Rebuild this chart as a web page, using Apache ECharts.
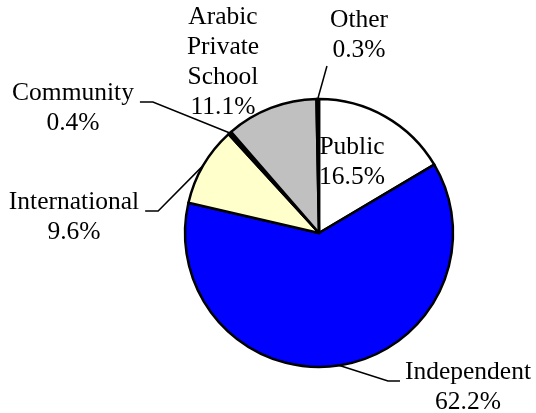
<!DOCTYPE html>
<html>
<head>
<meta charset="utf-8">
<script src="https://cdn.jsdelivr.net/npm/echarts@6/dist/echarts.min.js"></script>
<style>
  html, body { margin: 0; padding: 0; background: #fff; }
  #chart { width: 536px; height: 413px; }
</style>
</head>
<body>
<div id="chart"></div>
<script>
// slices, clockwise from 12 o'clock
const categories = ['Public', 'Independent', 'International', 'Community', 'Arabic\nPrivate\nSchool', 'Other']
const shares = [16.5, 62.2, 9.6, 0.4, 11.1, 0.3]
const colors = ['#FFFFFF', '#0000FF', '#FFFFCC', '#000000', '#C0C0C0', '#000000']

// label block centres and how the leader line meets them
const labelSpots = [
  { x: 352, y: 162, line: 'none' },
  { x: 468, y: 387, line: 'left' },
  { x: 74, y: 217, line: 'right' },
  { x: 73, y: 108, line: 'right' },
  { x: 223, y: 62, line: 'none' },
  { x: 359, y: 35, line: 'bottom' }
]

const chart = echarts.init(document.getElementById('chart'), null, { renderer: 'canvas' })

const seriesData = categories.map((name, i) => ({
  name: name,
  value: shares[i],
  itemStyle: { color: colors[i] },
  labelLine: { show: labelSpots[i].line !== 'none' }
}))

chart.setOption({
  backgroundColor: '#fff',
  animation: false,
  series: [
    {
      type: 'pie',
      center: [319, 233],
      radius: 134,
      startAngle: 90,
      clockwise: true,
      avoidLabelOverlap: false,
      data: seriesData,
      itemStyle: {
        borderColor: '#000',
        borderWidth: 2.5
      },
      label: {
        show: true,
        position: 'outside',
        color: '#000',
        fontFamily: 'Liberation Serif',
        fontSize: 25.5,
        lineHeight: 30,
        align: 'center',
        overflow: 'none',
        formatter: p => p.name + '\n' + p.value.toFixed(1) + '%'
      },
      labelLine: {
        show: true,
        length: 10,
        length2: 10,
        lineStyle: { color: '#000', width: 1.5 }
      },
      labelLayout: params => {
        const spot = labelSpots[params.dataIndex]
        const w = params.labelRect.width
        const h = params.labelRect.height
        const out = { x: spot.x, y: spot.y, align: 'center', verticalAlign: 'middle' }
        const pts = params.labelLinePoints
        if (pts && spot.line !== 'none') {
          const anchor = pts[0]
          const ly = spot.y - 6
          if (spot.line === 'left') {
            const ex = spot.x - w / 2 - 5
            out.labelLinePoints = [anchor, [ex - 12, ly], [ex, ly]]
          } else if (spot.line === 'right') {
            const ex = spot.x + w / 2 + 6
            out.labelLinePoints = [anchor, [ex + 13, ly], [ex, ly]]
          } else {
            const p = [spot.x - w / 2 - 3, spot.y + h / 2 + 1]
            out.labelLinePoints = [anchor, p, p]
          }
        }
        return out
      }
    }
  ]
})
</script>
</body>
</html>
